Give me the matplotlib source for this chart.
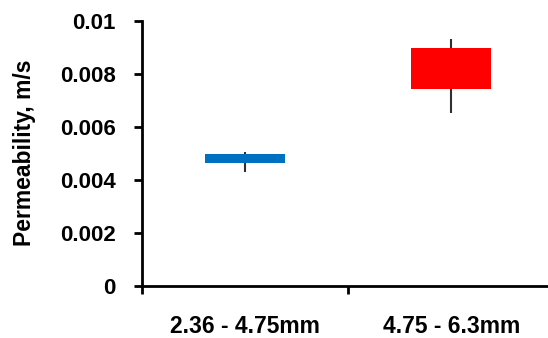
import matplotlib
matplotlib.use("Agg")
import matplotlib.pyplot as plt

plt.rcParams['font.family'] = ['Liberation Sans', 'DejaVu Sans']

categories = ['2.36 - 4.75mm', '4.75 - 6.3mm']
box_low = [0.00463, 0.00743]
box_high = [0.00497, 0.00897]
whisker_low = [0.00429, 0.00652]
whisker_high = [0.00505, 0.00931]
colors = ['#0070C0', '#FF0000']
yticks = [0, 0.002, 0.004, 0.006, 0.008, 0.01]
ytick_labels = ['0', '0.002', '0.004', '0.006', '0.008', '0.01']

fig = plt.figure(figsize=(5.48, 3.38), dpi=100)
ax = fig.add_axes([142 / 548, 52 / 338, 406 / 548, 265 / 338])

pos = [1, 2]
ax.vlines(pos, whisker_low, whisker_high, color='#303030', lw=1.5, zorder=2)
heights = [h - l for h, l in zip(box_high, box_low)]
ax.bar(pos, heights, bottom=box_low, width=0.39, color=colors, zorder=3)

ax.set_xlim(0.5, 2.47)
ax.set_ylim(0, 0.01)

for s in ['top', 'right']:
    ax.spines[s].set_visible(False)
for s in ['left', 'bottom']:
    ax.spines[s].set_linewidth(2)

ax.set_yticks(yticks)
ax.set_yticklabels(ytick_labels, fontsize=16, fontweight='bold')
ax.tick_params(axis='y', direction='out', length=6, width=2, pad=13)

ax.set_xticks([0.5, 1.5])
ax.set_xticklabels([])
ax.tick_params(axis='x', which='major', direction='out', length=6, width=2)
ax.set_xticks(pos, minor=True)
ax.set_xticklabels(categories, minor=True, fontsize=16.5, fontweight='bold')
ax.tick_params(axis='x', which='minor', length=0, pad=21)

fig.text(25 / 548, 1 - 153 / 338, 'Permeability, m/s', rotation=90,
         ha='center', va='center', fontsize=16.5, fontweight='bold')

fig.savefig('out.png', dpi=100)
